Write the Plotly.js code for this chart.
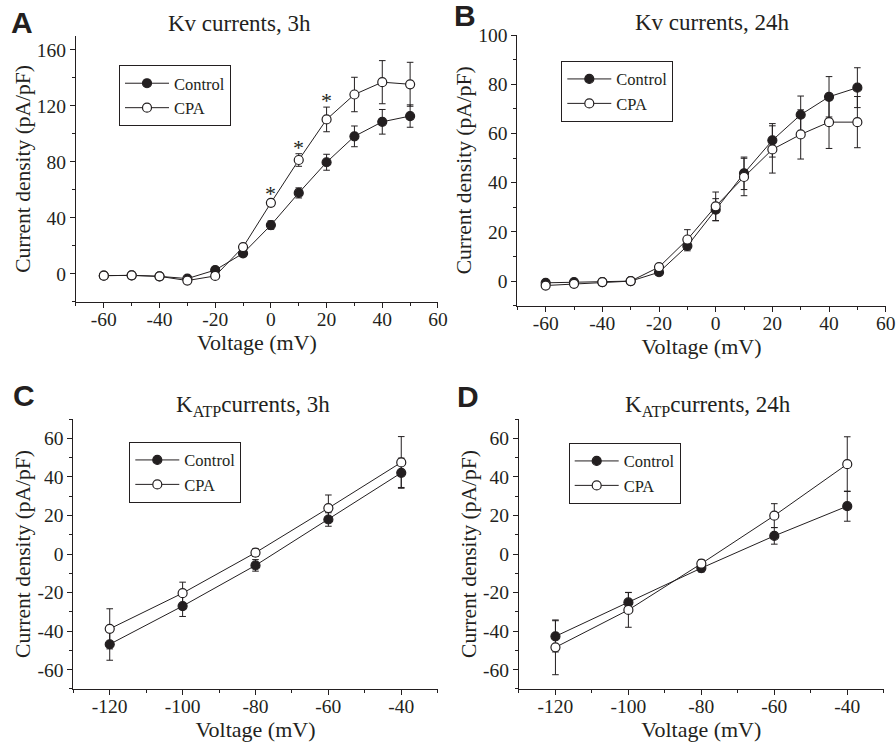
<!DOCTYPE html>
<html>
<head>
<meta charset="utf-8">
<script src="https://cdn.plot.ly/plotly-3.0.1.min.js"></script>
<style>html,body{margin:0;padding:0;background:#fff;}#chart{width:896px;height:748px;}</style>
</head>
<body>
<div id="chart"></div>
<script>
// ---------- DATA ----------
const voltKv = [-60, -50, -40, -30, -20, -10, 0, 10, 20, 30, 40, 50];
const kv3Control    = [-1.2, -1, -1.7, -3.3, 2.8, 14.7, 34.9, 57.9, 79.8, 98.3, 108.7, 112.8];
const kv3ControlErr = [1, 1, 1, 1, 1.5, 2, 3, 3.6, 5.7, 7.4, 8.8, 8];
const kv3Cpa        = [-1.2, -1, -1.7, -4.7, -1.4, 19.2, 50.8, 81.4, 110.4, 128.2, 137, 135.5];
const kv3CpaErr     = [1, 1, 1, 1, 1.5, 2, 2, 4.5, 8.8, 12.3, 15.4, 15.7];
const kv3Significant = [0, 10, 20];

const kv24Control    = [-0.7, -0.4, -0.4, 0, 3.6, 14.3, 29, 43.8, 57.2, 67.6, 74.9, 78.6];
const kv24ControlErr = [1, 1, 1, 1, 1, 2, 4.5, 6.6, 6.8, 7.6, 8.2, 8.1];
const kv24Cpa        = [-1.8, -1.1, -0.4, 0, 5.7, 16.9, 30.4, 42.3, 53.5, 59.6, 64.6, 64.6];
const kv24CpaErr     = [1, 1, 1, 1, 1, 4, 5.8, 7.6, 9.6, 10, 10.7, 10.4];

const voltKatp = [-120, -100, -80, -60, -40];
const katp3Control    = [-46.8, -27, -5.9, 17.9, 42.1];
const katp3ControlErr = [8.3, 5.4, 3, 3.5, 7.6];
const katp3Cpa        = [-38.8, -20.3, 0.7, 23.8, 47.5];
const katp3CpaErr     = [10.4, 5.7, 2, 6.8, 13.4];

const katp24Control    = [-42.7, -25.1, -7.3, 9.4, 24.8];
const katp24ControlErr = [8.1, 5.2, 2, 4.3, 7.8];
const katp24Cpa        = [-48.4, -29, -5, 19.9, 46.6];
const katp24CpaErr     = [14.2, 9, 2, 6.2, 14.2];

const seriesNames = ["Control", "CPA"];
const panelLetters = ["A", "B", "C", "D"];
const panelTitles = ["Kv currents, 3h", "Kv currents, 24h", "K<sub>ATP</sub>currents, 3h", "K<sub>ATP</sub>currents, 24h"];
const xTitle = "Voltage (mV)";
const yTitle = "Current density (pA/pF)";

const kvXTicks = [-60, -40, -20, 0, 20, 40, 60];
const kvXLabels = ["-60", "-40", "-20", "0", "20", "40", "60"];
const kv3YTicks = [0, 40, 80, 120, 160];
const kv3YLabels = ["0", "40", "80", "120", "160"];
const kv24YTicks = [0, 20, 40, 60, 80, 100];
const kv24YLabels = ["0", "20", "40", "60", "80", "100"];
const katpXTicks = [-120, -100, -80, -60, -40];
const katpXLabels = ["-120", "-100", "-80", "-60", "-40"];
const katpYTicks = [-60, -40, -20, 0, 20, 40, 60];
const katpYLabels = ["-60", "-40", "-20", "0", "20", "40", "60"];

// ---------- STYLE ----------
const INK = "#231f20";
const SERIF = "Liberation Serif, Times New Roman, serif";

function mkTrace(x, y, err, name, open, axisIdx, legendId) {
  const s = axisIdx === 1 ? "" : String(axisIdx);
  return {
    type: "scatter", mode: "lines+markers",
    x: x, y: y, name: name,
    xaxis: "x" + s, yaxis: "y" + s,
    legend: legendId, showlegend: true,
    line: { color: INK, width: 1 },
    marker: { symbol: "circle", size: 9, color: open ? "#ffffff" : INK,
              line: { color: INK, width: 1.2 } },
    error_y: { type: "data", array: err, visible: true, color: INK, thickness: 1, width: 3.3 },
    cliponaxis: false
  };
}

const data = [
  mkTrace(voltKv, kv3Control, kv3ControlErr, seriesNames[0], false, 1, "legend"),
  mkTrace(voltKv, kv3Cpa, kv3CpaErr, seriesNames[1], true, 1, "legend"),
  mkTrace(voltKv, kv24Control, kv24ControlErr, seriesNames[0], false, 2, "legend2"),
  mkTrace(voltKv, kv24Cpa, kv24CpaErr, seriesNames[1], true, 2, "legend2"),
  mkTrace(voltKatp, katp3Control, katp3ControlErr, seriesNames[0], false, 3, "legend3"),
  mkTrace(voltKatp, katp3Cpa, katp3CpaErr, seriesNames[1], true, 3, "legend3"),
  mkTrace(voltKatp, katp24Control, katp24ControlErr, seriesNames[0], false, 4, "legend4"),
  mkTrace(voltKatp, katp24Cpa, katp24CpaErr, seriesNames[1], true, 4, "legend4")
];

function xAxis(domain, range, tv, tt, anchor) {
  return {
    domain: domain, range: range, anchor: anchor,
    tickmode: "array", tickvals: tv, ticktext: tt,
    ticks: "outside", ticklen: 5, tickwidth: 1, tickcolor: INK,
    ticklabelstandoff: -5,
    minor: { dtick: 10, ticks: "outside", ticklen: 3, tickwidth: 1, tickcolor: INK, showgrid: false },
    showline: true, linecolor: INK, linewidth: 1, mirror: false,
    showgrid: false, zeroline: false,
    tickfont: { family: SERIF, size: 19.5, color: INK },
    title: { text: xTitle, font: { family: SERIF, size: 22, color: INK }, standoff: 2 },
    automargin: false, fixedrange: true
  };
}
function yAxis(domain, range, tv, tt, anchor, minorStep, standoff) {
  return {
    domain: domain, range: range, anchor: anchor,
    tickmode: "array", tickvals: tv, ticktext: tt,
    ticks: "outside", ticklen: 5, tickwidth: 1, tickcolor: INK,
    minor: { dtick: minorStep, ticks: "outside", ticklen: 3, tickwidth: 1, tickcolor: INK, showgrid: false },
    showline: true, linecolor: INK, linewidth: 1, mirror: false,
    showgrid: false, zeroline: false,
    tickfont: { family: SERIF, size: 19.5, color: INK },
    title: { text: yTitle, font: { family: SERIF, size: 21.5, color: INK }, standoff: standoff },
    automargin: false, fixedrange: true
  };
}

function legendBox(x, y) {
  return {
    x: x, y: y, xanchor: "left", yanchor: "top",
    bgcolor: "rgba(255,255,255,0)", bordercolor: INK, borderwidth: 1,
    font: { family: SERIF, size: 16.5, color: INK },
    tracegroupgap: 0, itemwidth: 44
  };
}

const annotations = [];
// panel letters
const letterPos = [[9, 22.5], [452, 16], [10.5, 395], [455, 396]];
panelLetters.forEach((L, i) => {
  annotations.push({
    xref: "paper", yref: "paper", x: letterPos[i][0] / 896, y: 1 - letterPos[i][1] / 748,
    xanchor: "left", yanchor: "middle", showarrow: false, text: L,
    font: { family: "Liberation Sans, Arial, sans-serif", size: 30, color: INK, weight: "bold" }
  });
});
// panel titles
const titlePos = [[239.5, 23], [711.8, 22], [253, 406], [708, 406]];
panelTitles.forEach((T, i) => {
  annotations.push({
    xref: "paper", yref: "paper", x: titlePos[i][0] / 896, y: 1 - titlePos[i][1] / 748,
    xanchor: "center", yanchor: "middle", showarrow: false, text: T,
    font: { family: SERIF, size: 23, color: INK }
  });
});
// significance asterisks (panel A)
kv3Significant.forEach(v => {
  const i = voltKv.indexOf(v);
  annotations.push({
    xref: "x", yref: "y", x: v, y: kv3Cpa[i] + kv3CpaErr[i],
    xanchor: "center", yanchor: "bottom", yshift: -8, showarrow: false, text: "*",
    font: { family: SERIF, size: 22, color: INK }
  });
});

const layout = {
  width: 896, height: 748,
  margin: { l: 0, r: 0, t: 0, b: 0, pad: 0 },
  paper_bgcolor: "#ffffff", plot_bgcolor: "rgba(0,0,0,0)",
  font: { family: SERIF, color: INK },
  showlegend: true,
  xaxis:  xAxis([0.0848, 0.4888], [-70, 60], kvXTicks, kvXLabels, "y"),
  yaxis:  yAxis([0.5963, 0.9519], [-20, 170], kv3YTicks, kv3YLabels, "x", 20, 0),
  xaxis2: xAxis([0.5774, 0.9885], [-70, 60], kvXTicks, kvXLabels, "y2"),
  yaxis2: yAxis([0.5913, 0.9532], [-10, 100], kv24YTicks, kv24YLabels, "x2", 10, 0),
  xaxis3: xAxis([0.0818, 0.4885], [-130, -30], katpXTicks, katpXLabels, "y3"),
  yaxis3: yAxis([0.0789, 0.4398], [-70, 70], katpYTicks, katpYLabels, "x3", 10, 0),
  xaxis4: xAxis([0.5792, 0.9863], [-130, -30], katpXTicks, katpXLabels, "y4"),
  yaxis4: yAxis([0.0789, 0.4398], [-70, 70], katpYTicks, katpYLabels, "x4", 10, 0),
  legend:  legendBox(119 / 896, 1 - 65 / 748),
  legend2: legendBox(561.3 / 896, 1 - 60.7 / 748),
  legend3: legendBox(129.3 / 896, 1 - 441.7 / 748),
  legend4: legendBox(568.7 / 896, 1 - 442.7 / 748),
  annotations: annotations
};

Plotly.newPlot("chart", data, layout, { displayModeBar: false, staticPlot: true });
</script>
</body>
</html>
